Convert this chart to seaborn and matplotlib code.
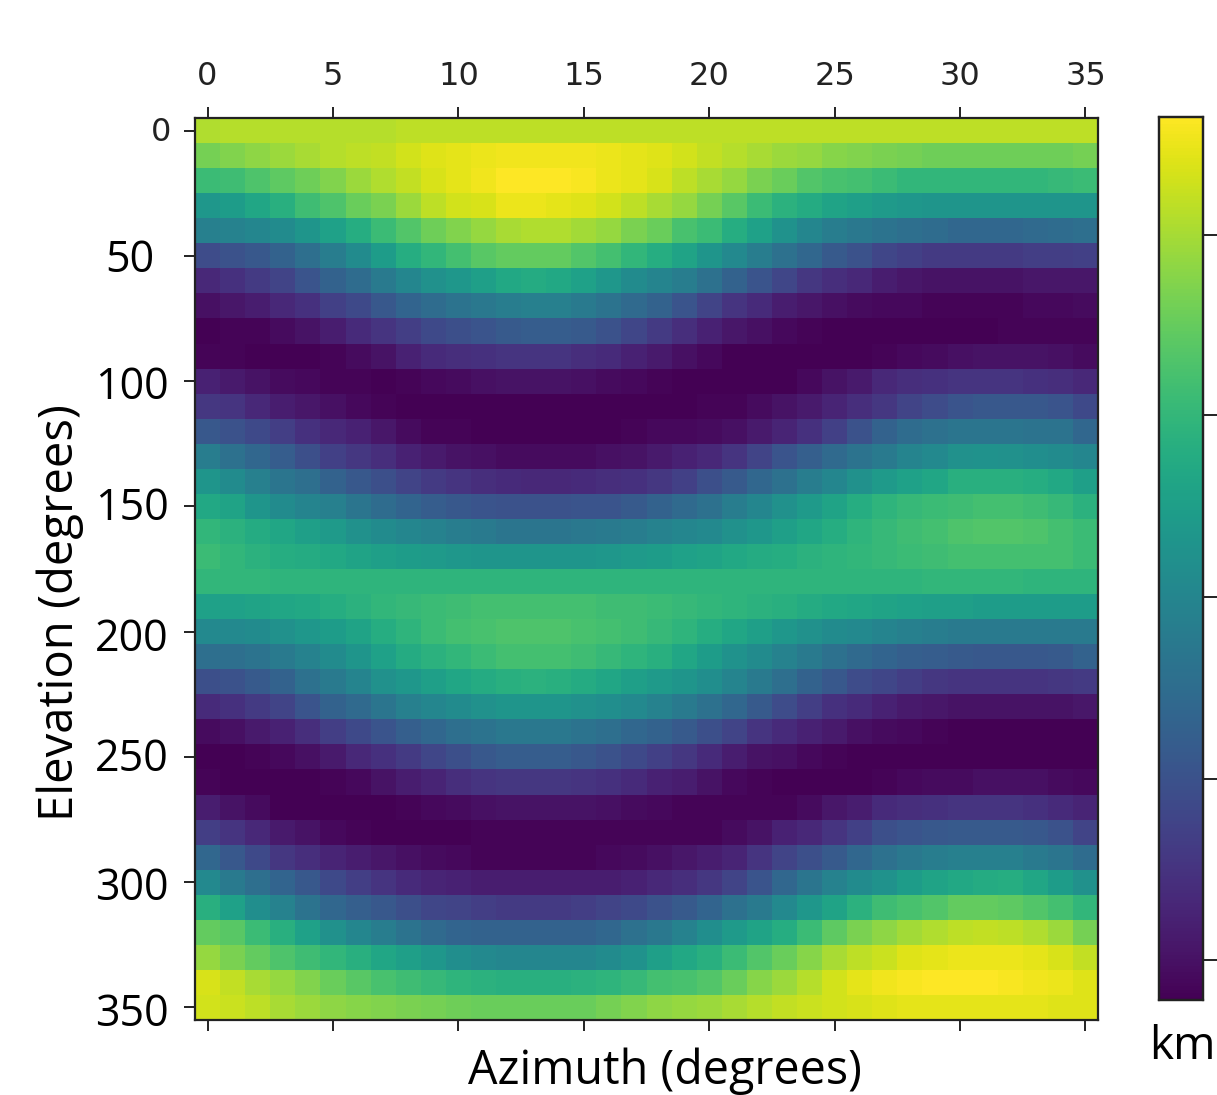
import numpy as np
import pandas as pd
import matplotlib
matplotlib.use("Agg")
import matplotlib.pyplot as plt
from matplotlib.transforms import ScaledTranslation
import seaborn as sns

# Map values, one row per elevation step (scale 0-100)
row_00 = [88,89,89,89,89,89,89,89,90,90,90,90,90,90,90,90,90,90,90,90,90,90,90,90,90,90,90,90,90,90,90,90,90,90,90,90]
row_01 = [79,81,83,85,87,89,90,91,93,95,96,97,98,98,98,98,97,96,95,93,91,89,87,85,84,82,81,80,79,78,78,78,78,78,78,79]
row_02 = [68,69,72,75,78,81,85,88,91,94,96,98,100,100,100,99,97,96,94,90,87,84,80,77,73,71,70,68,66,66,66,66,66,66,67,68]
row_03 = [53,55,59,63,69,72,77,80,85,90,93,94,97,97,96,95,93,90,87,84,79,74,68,64,61,58,56,54,53,52,52,52,52,52,52,52]
row_04 = [43,44,46,48,52,57,62,68,73,78,81,84,87,88,88,86,84,80,77,71,68,62,57,51,46,42,40,38,36,35,33,33,33,34,35,36]
row_05 = [23,25,27,31,36,42,48,55,62,66,70,74,76,76,76,73,70,66,62,58,52,47,42,37,33,28,25,21,19,17,17,17,17,18,18,19]
row_06 = [11,14,17,20,26,31,35,41,46,50,53,56,60,61,60,57,53,48,45,42,37,31,26,21,16,13,11,8,6,5,5,5,5,6,6,6]
row_07 = [4,6,8,11,14,19,22,27,32,35,38,40,42,43,43,41,38,34,31,26,20,15,12,8,6,4,3,2,2,1,1,1,1,2,2,3]
row_08 = [0,1,1,3,5,8,12,15,18,22,24,26,28,29,29,28,25,21,17,13,9,6,4,2,1,0,0,0,0,0,0,0,1,1,1,1]
row_09 = [1,1,0,0,0,1,3,5,9,12,13,14,15,15,15,13,12,9,7,4,2,0,0,0,0,0,0,1,2,3,4,5,5,5,4,3]
row_10 = [9,7,5,3,2,1,1,0,1,2,3,4,5,5,5,4,3,2,1,0,0,0,0,0,2,5,7,11,13,14,15,15,15,14,13,11]
row_11 = [16,15,11,8,6,4,2,1,0,0,0,0,0,0,0,0,0,0,0,0,1,1,3,5,7,10,13,16,20,23,26,27,27,27,26,22]
row_12 = [27,25,22,18,14,11,9,6,3,1,1,0,0,0,0,0,0,1,2,2,3,4,7,10,14,19,25,31,35,37,39,39,39,38,38,33]
row_13 = [42,37,33,29,24,19,16,13,9,7,5,4,3,3,3,3,4,5,7,9,11,15,20,26,30,34,38,41,45,47,50,51,50,49,48,46]
row_14 = [52,48,43,39,36,31,27,24,20,17,15,13,12,11,11,12,13,14,16,19,24,28,33,37,42,46,50,54,57,59,63,63,63,62,60,56]
row_15 = [60,58,52,48,45,43,39,35,32,29,27,26,25,25,25,26,26,28,31,34,37,42,46,50,54,58,62,65,67,68,69,70,70,69,67,64]
row_16 = [66,64,61,59,56,54,50,48,46,44,42,41,39,39,39,40,41,42,44,46,47,50,53,56,59,62,65,67,69,70,72,73,73,72,70,68]
row_17 = [68,66,64,62,61,60,58,56,55,54,53,52,52,52,52,52,53,54,55,57,58,60,61,62,64,65,66,67,68,69,70,70,70,70,70,68]
row_18 = [66,66,66,65,65,65,65,65,65,65,65,65,65,65,65,65,65,65,65,65,65,65,65,65,65,65,65,65,65,66,66,66,66,65,65,65]
row_19 = [57,57,58,59,60,62,64,66,67,68,69,70,70,70,70,70,69,69,68,67,66,65,64,63,61,60,59,58,57,56,56,55,55,55,55,55]
row_20 = [47,47,48,50,53,55,58,62,65,68,70,71,72,72,72,71,70,69,67,65,62,59,56,53,50,48,47,45,43,42,41,41,41,41,41,41]
row_21 = [36,36,38,41,44,48,52,57,61,64,66,68,70,70,70,69,67,65,63,59,55,51,48,44,41,37,34,32,30,29,28,27,27,27,28,31]
row_22 = [24,25,28,31,37,41,45,50,53,56,59,61,63,64,63,61,59,56,54,52,49,45,41,36,31,27,23,21,18,16,15,15,15,15,16,17]
row_23 = [12,14,17,20,26,31,34,39,43,46,48,50,52,52,52,50,49,47,44,41,37,33,28,23,18,14,12,9,7,6,5,5,5,5,5,6]
row_24 = [3,4,7,9,13,18,22,26,30,33,36,38,40,40,40,38,36,33,31,28,24,20,15,12,9,7,4,3,2,1,0,0,0,0,0,0]
row_25 = [0,0,1,2,4,7,11,14,17,21,24,27,29,29,29,27,25,22,19,16,12,8,5,4,2,1,0,0,0,0,0,0,0,0,0,0]
row_26 = [1,0,0,0,0,1,2,5,8,10,13,15,16,16,16,15,14,12,9,8,5,2,1,0,0,0,0,1,2,3,3,4,4,4,3,2]
row_27 = [8,5,3,0,0,0,0,0,1,2,3,4,5,5,5,5,4,3,2,1,1,1,1,1,3,6,8,12,13,14,15,15,15,14,12,10]
row_28 = [18,15,11,7,5,2,1,0,0,0,0,1,1,1,1,1,1,1,1,1,1,3,5,9,11,15,19,24,26,27,28,28,28,27,25,20]
row_29 = [33,27,22,16,13,10,8,6,4,3,2,1,1,1,1,1,2,3,4,6,8,10,15,20,24,28,33,37,40,42,43,43,43,41,39,35]
row_30 = [47,41,36,32,27,22,18,15,12,10,9,8,8,8,8,8,8,9,11,13,16,20,26,33,39,44,48,51,55,58,60,61,62,59,55,50]
row_31 = [63,57,49,44,38,33,30,27,24,21,20,18,17,17,17,18,20,22,25,28,32,37,41,47,53,58,64,69,71,73,76,76,75,73,70,66]
row_32 = [76,74,68,63,57,50,46,42,38,34,32,31,31,31,31,31,33,37,40,44,49,54,58,62,68,75,80,83,86,88,90,91,90,88,85,79]
row_33 = [84,80,76,72,69,66,63,59,56,53,49,47,46,46,46,46,48,51,56,60,63,68,73,77,82,87,90,92,95,96,97,97,97,96,94,91]
row_34 = [94,91,87,84,81,77,74,71,69,67,65,64,63,63,63,64,65,67,70,71,73,77,82,85,89,93,96,98,99,100,100,100,99,98,97,95]
row_35 = [93,92,90,87,85,83,82,81,80,79,78,77,77,77,77,77,79,81,83,84,85,87,89,91,92,93,94,95,96,96,96,96,96,96,95,95]

rows = [row_00,row_01,row_02,row_03,row_04,row_05,row_06,row_07,row_08,row_09,row_10,row_11,
        row_12,row_13,row_14,row_15,row_16,row_17,row_18,row_19,row_20,row_21,row_22,row_23,
        row_24,row_25,row_26,row_27,row_28,row_29,row_30,row_31,row_32,row_33,row_34,row_35]

az_ticks = [0, 5, 10, 15, 20, 25, 30, 35]
el_ticks = [0, 5, 10, 15, 20, 25, 30, 35]
el_labels = ["0", "50", "100", "150", "200", "250", "300", "350"]
cbar_ticks = [4.5, 25, 45.6, 66.3, 86.6]

W, H = 1217, 1095
df = pd.DataFrame(rows)

fig = plt.figure(figsize=(W / 100, H / 100), dpi=100)
ax = fig.add_axes([195 / W, 1 - 1020 / H, 903 / W, 902 / H])
cax = fig.add_axes([1159 / W, 1 - 1000 / H, 44 / W, 883 / H])

sns.heatmap(df, cmap="viridis", vmin=0, vmax=100, ax=ax, cbar_ax=cax,
            xticklabels=False, yticklabels=False, square=False)

# heatmap strips the frame, put it back
for side in ["top", "bottom", "left", "right"]:
    ax.spines[side].set_visible(True)
    ax.spines[side].set_color("#222222")
    ax.spines[side].set_linewidth(1.6)

ax.set_xticks(np.array(az_ticks) + 0.5)
ax.set_xticklabels([str(a) for a in az_ticks], fontsize=23, color="#222222")
ax.set_yticks(np.array(el_ticks) + 0.5)
ax.set_yticklabels(el_labels, fontsize=31, family="Open Sans", rotation=0)
ax.tick_params(axis="x", top=True, bottom=True, labeltop=True, labelbottom=False,
               length=8, width=1.4, pad=11, color="#222222")
ax.tick_params(axis="y", left=True, length=8, width=1.4, pad=11, color="#222222")

# small first label and a few hand-placed ones, same as the source figure
y_shift = {"0": 2, "50": 1, "100": -1, "150": 3, "200": -3, "250": 3, "300": -1, "350": -2}
x_shift = {"50": -14, "0": 3}
for lab in ax.get_yticklabels():
    t = lab.get_text()
    if t == "0":
        lab.set_fontsize(23)
        lab.set_family("DejaVu Sans")
        lab.set_color("#222222")
    off = ScaledTranslation(x_shift.get(t, 0) / 100, y_shift[t] / 100, fig.dpi_scale_trans)
    lab.set_transform(lab.get_transform() + off)

cax.set_yticks(cbar_ticks)
cax.set_yticklabels([])
cax.tick_params(axis="y", right=True, length=10, width=1.4, color="#222222")
for side in cax.spines:
    cax.spines[side].set_visible(True)
    cax.spines[side].set_color("#222222")
    cax.spines[side].set_linewidth(1.6)

fig.text(665 / W, 1 - 1071 / H, "Azimuth (degrees)", fontsize=33.6, family="Open Sans",
         ha="center", va="center")
fig.text(60 / W, 1 - 613 / H, "Elevation (degrees)", fontsize=34, family="Open Sans",
         rotation=90, ha="center", va="center")
fig.text(1182 / W, 1 - 1047 / H, "km", fontsize=33, family="Open Sans", ha="center", va="center")

plt.savefig("out.png", dpi=100)
